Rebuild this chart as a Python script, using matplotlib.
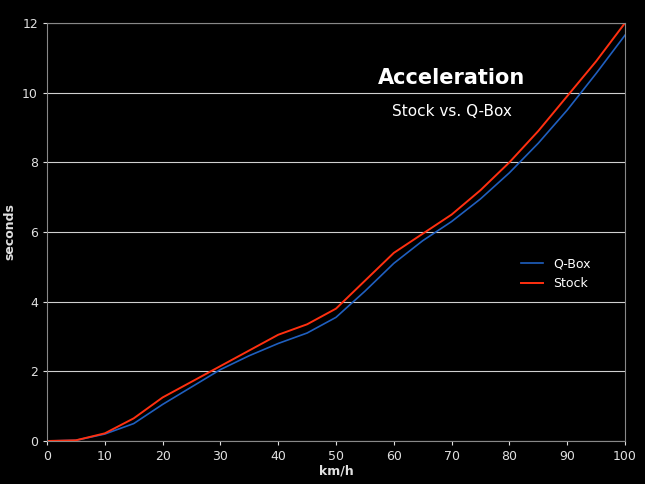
import matplotlib
matplotlib.use("Agg")
import matplotlib.pyplot as plt

speed = [0, 5, 10, 15, 20, 25, 30, 35, 40, 45, 50, 55, 60, 65, 70, 75, 80, 85, 90, 95, 100]
qbox = [0, 0.02, 0.2, 0.5, 1.05, 1.55, 2.05, 2.45, 2.8, 3.1, 3.55, 4.3, 5.1, 5.75, 6.3, 6.95, 7.7, 8.55, 9.5, 10.55, 11.65]
stock = [0, 0.02, 0.22, 0.65, 1.25, 1.7, 2.15, 2.6, 3.05, 3.35, 3.8, 4.6, 5.4, 5.95, 6.5, 7.2, 8.0, 8.9, 9.9, 10.9, 12.0]

fig = plt.figure(figsize=(6.45, 4.84), dpi=100, facecolor="black")
ax = fig.add_axes([47/645, 1-441/484, 578/645, 418/484], facecolor="black")
ax.plot(speed, qbox, color="#1f5fbf", lw=1.2, label="Q-Box")
ax.plot(speed, stock, color="#ff3010", lw=1.4, label="Stock")
ax.set_xlim(0, 100); ax.set_ylim(0, 12)
ax.set_xticks(range(0, 101, 10)); ax.set_yticks(range(0, 13, 2))
ax.yaxis.grid(True, color="#d0d0d0", lw=0.8)
ax.set_axisbelow(True)
for s in ax.spines.values():
    s.set_color("#888888")
ax.tick_params(colors="#e0e0e0", labelsize=9, length=3)
ax.set_xlabel("km/h", color="#e0e0e0", fontsize=9, fontweight="bold", labelpad=1)
ax.set_ylabel("seconds", color="#e0e0e0", fontsize=9, fontweight="bold")
fig.text(452/645, 1-78/484, "Acceleration", color="white", fontsize=15, fontweight="bold", ha="center", va="center")
fig.text(452/645, 1-111/484, "Stock vs. Q-Box", color="white", fontsize=11, ha="center", va="center")
leg = ax.legend(loc="center left", bbox_to_anchor=(0.8, 0.40), frameon=False, fontsize=9, handlelength=1.8)
for t in leg.get_texts():
    t.set_color("white")
fig.savefig("out.png", facecolor="black")
